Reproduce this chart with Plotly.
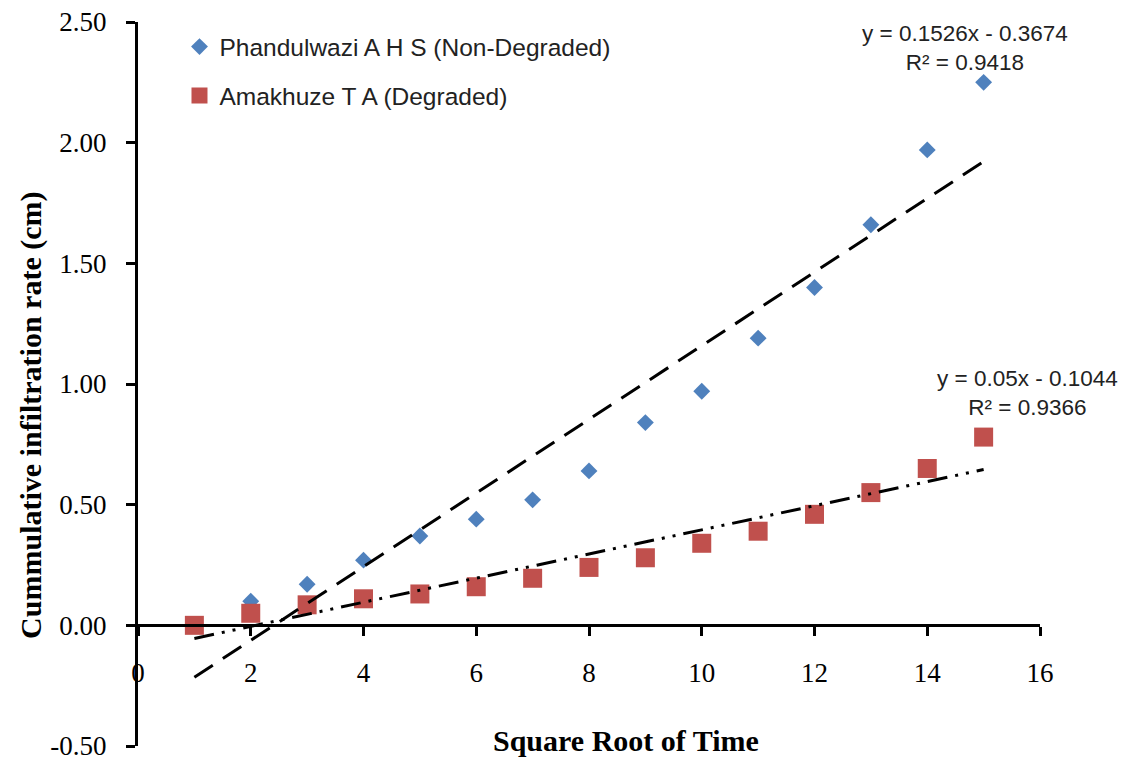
import plotly.graph_objects as go

# ---- data ----
x_vals = [1, 2, 3, 4, 5, 6, 7, 8, 9, 10, 11, 12, 13, 14, 15]
phandulwazi = [None, 0.10, 0.17, 0.27, 0.37, 0.44, 0.52, 0.64, 0.84, 0.97, 1.19, 1.40, 1.66, 1.97, 2.25]
amakhuze = [0.00, 0.05, 0.085, 0.11, 0.13, 0.16, 0.195, 0.24, 0.28, 0.34, 0.39, 0.46, 0.55, 0.65, 0.78]

trend_x = [1, 15]
blue_slope, blue_icpt = 0.1526, -0.3674
red_slope, red_icpt = 0.05, -0.1044

x_ticks = [0, 2, 4, 6, 8, 10, 12, 14, 16]
y_ticks = [-0.5, 0.0, 0.5, 1.0, 1.5, 2.0, 2.5]
y_tick_text = ["-0.50", "0.00", "0.50", "1.00", "1.50", "2.00", "2.50"]

BLUE = "#4F81BD"
RED = "#C0504D"
SERIF = "Liberation Serif, Times New Roman, serif"
SANS = "Liberation Sans, Arial, sans-serif"

fig = go.Figure()

fig.add_trace(go.Scatter(
    x=x_vals, y=phandulwazi, mode="markers",
    name="Phandulwazi A H S (Non-Degraded)",
    marker=dict(symbol="diamond", size=13, color=BLUE),
    legendgroup="a",
))
fig.add_trace(go.Scatter(
    x=x_vals, y=amakhuze, mode="markers",
    name="Amakhuze T A (Degraded)",
    marker=dict(symbol="square", size=19, color=RED),
    legendgroup="b",
))
fig.add_trace(go.Scatter(
    x=trend_x, y=[blue_slope * v + blue_icpt for v in trend_x], mode="lines",
    line=dict(color="black", width=3, dash="22px,12px"),
    showlegend=False, hoverinfo="skip",
))
fig.add_trace(go.Scatter(
    x=trend_x, y=[red_slope * v + red_icpt for v in trend_x], mode="lines",
    line=dict(color="black", width=3, dash="20px,8px,3px,8px,3px,8px"),
    showlegend=False, hoverinfo="skip",
))

fig.update_layout(
    width=1127, height=765,
    margin=dict(l=138, r=87, t=22, b=19),
    plot_bgcolor="white", paper_bgcolor="white",
    showlegend=True,
    legend=dict(
        x=0.046, y=0.997, xanchor="left", yanchor="top",
        font=dict(family=SANS, size=24.5, color="#222"),
        bgcolor="rgba(0,0,0,0)",
        tracegroupgap=14, itemwidth=30,
    ),
    xaxis=dict(
        range=[0, 16], tickvals=x_ticks, ticktext=[str(v) for v in x_ticks],
        anchor="free", position=1/6, automargin=False,
        showline=True, linecolor="black", linewidth=3,
        ticks="outside", ticklen=9, tickwidth=3, tickcolor="black",
        ticklabelstandoff=13,
        showgrid=False, zeroline=False,
        tickfont=dict(family=SERIF, size=27, color="black"),
    ),
    yaxis=dict(
        range=[-0.5, 2.5], tickvals=y_ticks, ticktext=y_tick_text, automargin=False,
        showline=True, linecolor="black", linewidth=3,
        ticks="outside", ticklen=9, tickwidth=3, tickcolor="black",
        ticklabelstandoff=14,
        showgrid=False, zeroline=False,
        tickfont=dict(family=SERIF, size=27, color="black"),
    ),
    annotations=[
        dict(text="<b>Square Root of Time</b>", xref="paper", yref="paper",
             x=0.541, y=0.007, xanchor="center", yanchor="middle", showarrow=False,
             font=dict(family=SERIF, size=30, color="black")),
        dict(text="<b>Cummulative infiltration rate (cm)</b>", xref="paper", yref="paper",
             x=-0.1186, y=0.456, xanchor="center", yanchor="middle", textangle=-90,
             showarrow=False, font=dict(family=SERIF, size=30, color="black")),
        dict(text="y = 0.1526x - 0.3674<br>R² = 0.9418", xref="paper", yref="paper",
             x=0.917, y=0.964, xanchor="center", yanchor="middle", showarrow=False,
             align="center", font=dict(family=SANS, size=22.5, color="#222")),
        dict(text="y = 0.05x - 0.1044<br>R² = 0.9366", xref="paper", yref="paper",
             x=0.9856, y=0.4876, xanchor="center", yanchor="middle", showarrow=False,
             align="center", font=dict(family=SANS, size=22.5, color="#222")),
    ],
)

fig.write_html("out.html")
